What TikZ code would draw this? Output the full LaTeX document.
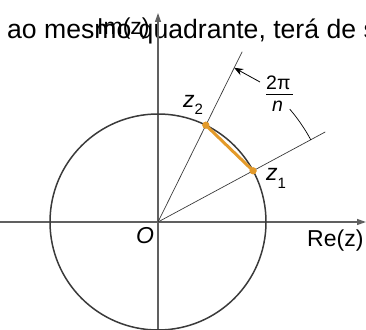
\documentclass[tikz,border=0pt]{standalone}
\usepackage{fontspec}
\setmainfont{Liberation Sans}
\usetikzlibrary{arrows.meta,calc}
\definecolor{axisgray}{HTML}{606060}
\definecolor{circgray}{HTML}{3A3A3A}
\definecolor{chordorange}{HTML}{E39A2A}
\begin{document}
\begin{tikzpicture}[x=1pt,y=1pt,
  axis/.style={draw=axisgray,line width=1.2pt,-{Triangle[length=9pt,width=6pt]}},
  ray/.style={draw=circgray,line width=0.7pt},
  lbl/.style={inner sep=0pt,anchor=base west,font=\fontsize{23}{27}\selectfont},
  frac/.style={inner sep=0pt,anchor=base west,font=\fontsize{19.5}{23}\selectfont},
  dot/.style={circle,fill=chordorange,inner sep=0pt,minimum size=7pt}]
\useasboundingbox (0,0) rectangle (366,329);
\begin{scope}
\clip (0,0) rectangle (366,329);
\coordinate (O) at (158,107);
\coordinate (xl) at (0,107);
\coordinate (xr) at (366,107);
\coordinate (yb) at (158,0);
\coordinate (yt) at (158,316);
\node[lbl] (im) at (97,294) {Im(z)};
\node[inner sep=0pt,anchor=base west,font=\fontsize{26.6}{30}\selectfont] (txt) at (7,290) {ao mesmo quadrante, terá de s};
\draw[axis] (xl) -- (xr);
\draw[axis] (yb) -- (yt);
\draw[circgray,line width=1.5pt] (O) circle[radius=108];
\coordinate (r1) at ($(O)+(28.3:190)$);
\coordinate (r2) at ($(O)+(63.7:190)$);
\node[dot] (z1) at ($(O)+(28.3:108)$) {};
\node[dot] (z2) at ($(O)+(63.7:108)$) {};
\draw[ray] (O) -- (r1);
\draw[ray] (O) -- (r2);
\draw[chordorange,line width=3pt] (z1.center) -- (z2.center);
\node[dot] at (z1) {};
\node[dot] at (z2) {};
\draw[black,line width=0.7pt] ($(O)+(28.3:173.5)$) arc[start angle=28.3,end angle=40.6,radius=173.5];
\coordinate (as) at (260,247);
\coordinate (at) at ($(O)+(63.7:172)$);
\draw[black,line width=0.8pt,-{Stealth[length=9pt,width=7pt]}] (as) -- (at);
\node[lbl] (o) at (136,85) {\textit{O}};
\node[lbl] (re) at (307,82) {Re(z)};
\node[lbl] (l1) at (266,148) {\textit{z}\raisebox{-8pt}{\fontsize{15}{17}\selectfont 1}};
\node[lbl] (l2) at (183,221) {\textit{z}\raisebox{-7pt}{\fontsize{15}{17}\selectfont 2}};
\node[frac] (num) at (266,239) {2π};
\node[frac] (den) at (272,217) {\textit{n}};
\draw[black,line width=0.9pt] (266,235) -- (293,235);
\end{scope}
\end{tikzpicture}
\end{document}
